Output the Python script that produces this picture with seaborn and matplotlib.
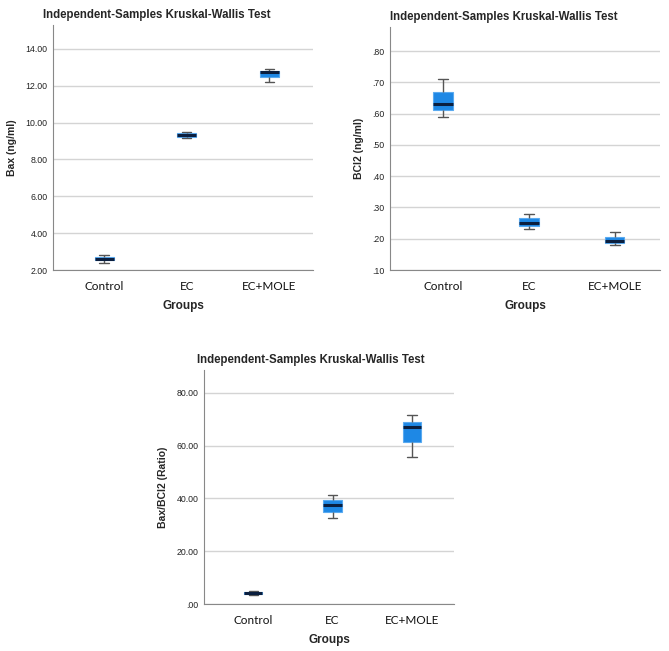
import numpy as np
import pandas as pd
import matplotlib
matplotlib.use("Agg")
import matplotlib.pyplot as plt
import seaborn as sns

# groups on the x axis
groups = ["Control", "EC", "EC+MOLE"]

# five-number summaries (min, q1, median, q3, max)
bax_min = [2.36, 9.17, 12.23]
bax_q1 = [2.52, 9.24, 12.50]
bax_med = [2.62, 9.33, 12.74]
bax_q3 = [2.73, 9.44, 12.81]
bax_max = [2.79, 9.51, 12.90]

bcl2_min = [0.59, 0.23, 0.180]
bcl2_q1 = [0.612, 0.240, 0.186]
bcl2_med = [0.632, 0.251, 0.192]
bcl2_q3 = [0.670, 0.265, 0.205]
bcl2_max = [0.71, 0.28, 0.221]

ratio_min = [3.4, 32.6, 55.5]
ratio_q1 = [3.8, 35.0, 61.3]
ratio_med = [4.2, 37.3, 67.1]
ratio_q3 = [4.5, 39.2, 69.1]
ratio_max = [4.8, 41.3, 71.4]

# y tick values
bax_ticks = [2, 4, 6, 8, 10, 12, 14]
bcl2_ticks = [0.1, 0.2, 0.3, 0.4, 0.5, 0.6, 0.7, 0.8]
ratio_ticks = [0, 20, 40, 60, 80]


def long_table(mins, q1s, meds, q3s, maxs):
    rows = []
    for i, g in enumerate(groups):
        for v in [mins[i], q1s[i], meds[i], q3s[i], maxs[i]]:
            rows.append({"Groups": g, "value": v})
    return pd.DataFrame(rows)


def fmt(v):
    s = f"{v:.2f}"
    if s.startswith("0"):
        s = s[1:]
    return s


W, H = 669, 651
fig = plt.figure(figsize=(W / 100, H / 100), dpi=100)
sns.set_style("white")

title_font = "Liberation Sans"
tick_font = "Lato"

box_col = "#1E88E5"


def panel(rect, df, ticks, ylim, ylabel):
    ax = fig.add_axes(rect)
    sns.boxplot(data=df, x="Groups", y="value", order=groups, ax=ax,
                color=box_col, width=0.23, whis=(0, 100), saturation=1,
                boxprops=dict(edgecolor="#5aaaf0", linewidth=0.8),
                medianprops=dict(color="#0b1f3f", linewidth=2.2),
                whiskerprops=dict(color="#555555", linewidth=1),
                capprops=dict(color="#555555", linewidth=1),
                showfliers=False)
    ax.set_xlim(-0.62, 2.53)
    ax.set_ylim(*ylim)
    ax.set_yticks(ticks)
    ax.set_yticklabels([fmt(t) for t in ticks], fontsize=6.3, family=title_font, color="#222222")
    ax.set_xticks(range(3))
    ax.set_xticklabels(groups, fontsize=8.5, family=tick_font, color="#111111")
    for t in ticks:
        ax.axhline(t, color="#d4d4d4", lw=1, zorder=0)
    ax.tick_params(length=0, pad=4)
    ax.tick_params(axis="x", pad=8)
    sns.despine(ax=ax)
    ax.spines["left"].set_color("#888888")
    ax.spines["bottom"].set_color("#888888")
    ax.set_ylabel(ylabel, fontsize=7.5, fontweight="bold", family=title_font, labelpad=6)
    ax.set_xlabel("Groups", fontsize=8.5, fontweight="bold", family=title_font, labelpad=6)
    return ax


def fr(x0, y0, x1, y1):
    # pixel box -> figure fraction
    return [x0 / W, 1 - y1 / H, (x1 - x0) / W, (y1 - y0) / H]


ax1 = panel(fr(53, 25, 313, 270), long_table(bax_min, bax_q1, bax_med, bax_q3, bax_max),
            bax_ticks, (2, 15.3), "Bax (ng/ml)")
ax2 = panel(fr(390, 27, 660, 270), long_table(bcl2_min, bcl2_q1, bcl2_med, bcl2_q3, bcl2_max),
            bcl2_ticks, (0.1, 0.877), "BCl2 (ng/ml)")
ax3 = panel(fr(204, 370, 454, 604), long_table(ratio_min, ratio_q1, ratio_med, ratio_q3, ratio_max),
            ratio_ticks, (0, 88.6), "Bax/BCl2 (Ratio)")

title = "Independent-Samples Kruskal-Wallis Test"
fig.text(43 / W, 1 - 15 / H, title, fontsize=8.3, fontweight="bold", family=title_font, va="center")
fig.text(390 / W, 1 - 17 / H, title, fontsize=8.3, fontweight="bold", family=title_font, va="center")
fig.text(197 / W, 1 - 360 / H, title, fontsize=8.3, fontweight="bold", family=title_font, va="center")

fig.savefig("out.png", dpi=100, facecolor="white")
